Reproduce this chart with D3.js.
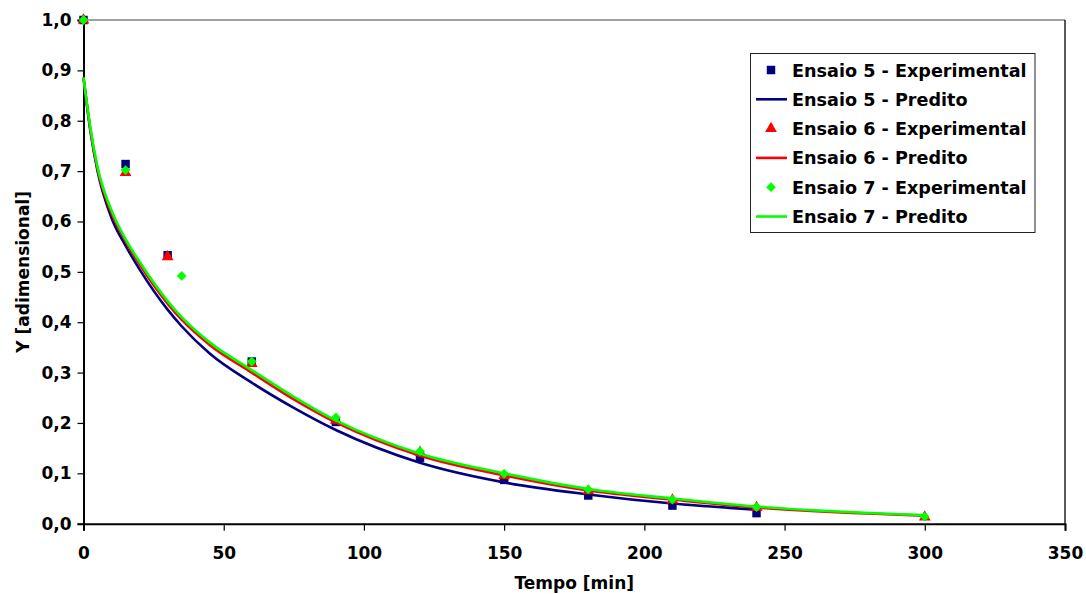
<!DOCTYPE html>
<html>
<head>
<meta charset="utf-8">
<script src="https://d3js.org/d3.v7.min.js"></script>
<style>
  body { margin: 0; background: #fff; }
  text { font-family: "DejaVu Sans", sans-serif; font-weight: bold; }
</style>
</head>
<body>
<svg id="chart" width="1086" height="594"></svg>
<script>
// experimental points
var tempo5 = [0, 15, 30, 60, 90, 120, 150, 180, 210, 240];
var exp5 = [1.0, 0.714, 0.533, 0.322, 0.202, 0.131, 0.087, 0.056, 0.036, 0.021];
var tempo6 = [0, 15, 30, 60, 90, 120, 150, 180, 210, 240, 300];
var exp6 = [1.0, 0.697, 0.530, 0.318, 0.205, 0.142, 0.095, 0.065, 0.047, 0.032, 0.013];
var tempo7 = [0, 15, 35, 60, 90, 120, 150, 180, 210, 240, 300];
var exp7 = [1.0, 0.702, 0.492, 0.322, 0.211, 0.144, 0.099, 0.068, 0.048, 0.033, 0.014];

// predicted curves
var tPred5 = [0, 2.5, 5, 10, 15, 20, 30, 35, 45, 60, 75, 90, 120, 150, 180, 210, 240];
var pred5 = [0.885, 0.778, 0.700, 0.607, 0.552, 0.505, 0.425, 0.392, 0.338, 0.280, 0.230, 0.186, 0.121, 0.082, 0.058, 0.040, 0.028];
var tPred6 = [0, 2.5, 5, 10, 15, 20, 30, 35, 45, 60, 75, 90, 120, 150, 180, 210, 240, 300];
var pred6 = [0.886, 0.781, 0.704, 0.617, 0.561, 0.515, 0.437, 0.405, 0.355, 0.300, 0.247, 0.201, 0.135, 0.096, 0.066, 0.048, 0.032, 0.016];
var tPred7 = [0, 2.5, 5, 10, 15, 20, 30, 35, 45, 60, 75, 90, 120, 150, 180, 210, 240, 300];
var pred7 = [0.886, 0.784, 0.708, 0.622, 0.565, 0.520, 0.442, 0.410, 0.360, 0.305, 0.252, 0.205, 0.139, 0.100, 0.069, 0.050, 0.034, 0.017];

var xTicks = [0, 50, 100, 150, 200, 250, 300, 350];
var yTicks = [0, 0.1, 0.2, 0.3, 0.4, 0.5, 0.6, 0.7, 0.8, 0.9, 1.0];

var legendLabels = ['Ensaio 5 - Experimental', 'Ensaio 5 - Predito',
                    'Ensaio 6 - Experimental', 'Ensaio 6 - Predito',
                    'Ensaio 7 - Experimental', 'Ensaio 7 - Predito'];

var navy = '#000080', red = '#ff0000', green = '#00ff00';

var svg = d3.select('#chart');
var plotL = 83.5, plotR = 1065, plotT = 20, plotB = 523.7;

var x = d3.scaleLinear().domain([0, 350]).range([plotL, plotR]);
var y = d3.scaleLinear().domain([0, 1]).range([plotB, plotT]);

svg.append('rect').attr('width', 1086).attr('height', 594).attr('fill', '#fff');

// plot frame (top / right)
svg.append('line').attr('x1', plotL).attr('x2', plotR).attr('y1', plotT).attr('y2', plotT)
  .attr('stroke', '#808080').attr('stroke-width', 1.5);
svg.append('line').attr('x1', plotR).attr('x2', plotR).attr('y1', plotT).attr('y2', plotB)
  .attr('stroke', '#222').attr('stroke-width', 1.5);

// axes
var xAxis = svg.append('g').attr('transform', 'translate(0,' + plotB + ')')
  .call(d3.axisBottom(x).tickValues(xTicks).tickSize(7).tickPadding(16).tickFormat(d3.format('d')));
var yAxis = svg.append('g').attr('transform', 'translate(' + plotL + ',0)')
  .call(d3.axisLeft(y).tickValues(yTicks).tickSize(6).tickPadding(6)
    .tickFormat(function(d) { return d3.format('.1f')(d).replace('.', ','); }));

[xAxis, yAxis].forEach(function(a) {
  a.select('.domain').attr('stroke', '#000').attr('stroke-width', 2);
  a.selectAll('.tick line').attr('stroke', '#000').attr('stroke-width', 1.2);
  a.selectAll('.tick text').attr('fill', '#000').attr('font-size', 17)
    .style('font-family', '"DejaVu Sans", sans-serif').style('font-weight', 'bold');
});

// axis titles
svg.append('text').attr('x', (plotL + plotR) / 2).attr('y', 589).attr('text-anchor', 'middle')
  .attr('font-size', 17).text('Tempo [min]');
svg.append('text').attr('transform', 'translate(29,' + ((plotT + plotB) / 2) + ') rotate(-90)')
  .attr('text-anchor', 'middle').attr('font-size', 17).text('Y [adimensional]');

var line = d3.line().x(function(d) { return x(d[0]); }).y(function(d) { return y(d[1]); })
  .curve(d3.curveMonotoneX);

function zip(a, b) { return a.map(function(v, i) { return [v, b[i]]; }); }

var symSquare = d3.symbol().type(d3.symbolSquare).size(72);
var symTri = d3.symbol().type(d3.symbolTriangle).size(60);
var symDiamond = d3.symbol().type(d3.symbolSquare).size(48);

var series = [
  { pts: zip(tempo5, exp5), sym: symSquare, color: navy, rot: 0 },
  { pred: zip(tPred5, pred5), color: navy },
  { pts: zip(tempo6, exp6), sym: symTri, color: red, rot: 0 },
  { pred: zip(tPred6, pred6), color: red },
  { pts: zip(tempo7, exp7), sym: symDiamond, color: green, rot: 45 },
  { pred: zip(tPred7, pred7), color: green }
];

series.forEach(function(s) {
  if (s.pred) {
    svg.append('path').datum(s.pred).attr('d', line).attr('fill', 'none')
      .attr('stroke', s.color).attr('stroke-width', 2.6);
  } else {
    svg.append('g').selectAll('path').data(s.pts).enter().append('path')
      .attr('d', s.sym)
      .attr('transform', function(d) {
        return 'translate(' + x(d[0]) + ',' + y(d[1]) + ') rotate(' + s.rot + ')';
      })
      .attr('fill', s.color);
  }
});

// legend
var lg = svg.append('g');
lg.append('rect').attr('x', 750.5).attr('y', 53.5).attr('width', 284.5).attr('height', 179)
  .attr('fill', '#fff').attr('stroke', '#222').attr('stroke-width', 1);
series.forEach(function(s, i) {
  var cy = 70 + i * 29.3;
  if (s.pred) {
    lg.append('line').attr('x1', 756).attr('x2', 787).attr('y1', cy).attr('y2', cy)
      .attr('stroke', s.color).attr('stroke-width', 2.6);
  } else {
    lg.append('path').attr('d', s.sym).attr('transform', 'translate(771,' + cy + ') rotate(' + s.rot + ')')
      .attr('fill', s.color);
  }
  lg.append('text').attr('x', 792).attr('y', cy + 6.5).attr('font-size', 17.6).text(legendLabels[i]);
});
</script>
</body>
</html>
